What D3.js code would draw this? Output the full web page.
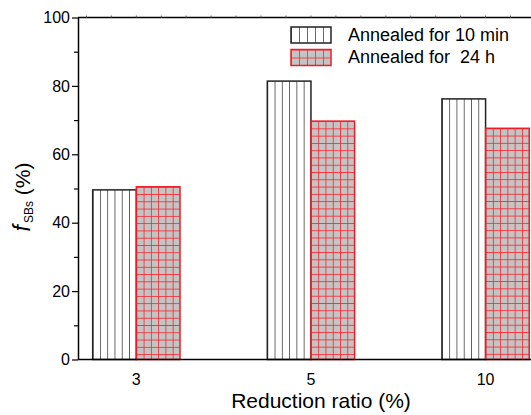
<!DOCTYPE html>
<html>
<head>
<meta charset="utf-8">
<script src="https://cdn.jsdelivr.net/npm/d3@7"></script>
<style>
  body { margin: 0; background: #fff; }
  text { font-family: "Liberation Sans", Arial, sans-serif; fill: #000; }
</style>
</head>
<body>
<div id="chart"></div>
<script>
// data
const categories = ['3', '5', '10'];
const series = ['Annealed for 10 min', 'Annealed for  24 h'];
const shortValues = [49.6, 81.4, 76.2];   // annealed 10 min
const longValues = [50.5, 69.7, 67.6];    // annealed 24 h
const yMajorTicks = [0, 20, 40, 60, 80, 100];
const yMinorTicks = [10, 30, 50, 70, 90];

const width = 531;
const height = 415;
const margin = { top: 17.5, left: 78, bottom: 55.5 };
const plotRight = 546;

const svg = d3.select('#chart')
  .append('svg')
  .attr('width', width)
  .attr('height', height);

const defs = svg.append('defs');

// scales
const x = d3.scaleLinear()
  .domain([-0.334, 2.346])
  .range([margin.left, plotRight]);

const y = d3.scaleLinear()
  .domain([0, 100])
  .range([height - margin.bottom, margin.top]);

const barW = 0.25; // in category units

const bars = [];
categories.forEach((c, i) => {
  bars.push({ cat: c, i: i, s: 0, value: shortValues[i] });
  bars.push({ cat: c, i: i, s: 1, value: longValues[i] });
});

// one pattern per bar so hatching lines up with each bar's edge
const makePattern = (id, px, py, cell, kind) => {
  const p = defs.append('pattern')
    .attr('id', id)
    .attr('patternUnits', 'userSpaceOnUse')
    .attr('x', px)
    .attr('y', py)
    .attr('width', cell)
    .attr('height', cell);
  if (kind === 0) {
    p.append('rect').attr('width', cell).attr('height', cell).attr('fill', '#fff');
    p.append('line')
      .attr('x1', 0).attr('x2', 0).attr('y1', 0).attr('y2', cell)
      .attr('stroke', '#2a2a2a').attr('stroke-width', 1.4);
  } else {
    p.append('rect').attr('width', cell).attr('height', cell).attr('fill', '#c4c4c4');
    p.append('line')
      .attr('x1', 0).attr('x2', 0).attr('y1', 0).attr('y2', cell)
      .attr('stroke', '#ff1a24').attr('stroke-width', 1.5);
    p.append('line')
      .attr('x1', 0).attr('x2', cell).attr('y1', 0).attr('y2', 0)
      .attr('stroke', '#ff1a24').attr('stroke-width', 1.5);
  }
};

const graph = svg.append('g');

bars.forEach((d, k) => {
  const x0 = x(d.i - barW + d.s * barW);
  const x1 = x(d.i + d.s * barW);
  const cell = (x1 - x0) / 6;
  makePattern('pat' + k, x0, y(d.value), cell, d.s);
});

graph.selectAll('rect.bar')
  .data(bars)
  .enter()
  .append('rect')
  .attr('class', 'bar')
  .attr('x', d => x(d.i - barW + d.s * barW))
  .attr('y', d => y(d.value))
  .attr('width', d => x(d.i + d.s * barW) - x(d.i - barW + d.s * barW))
  .attr('height', d => y(0) - y(d.value))
  .attr('fill', (d, k) => `url(#pat${k})`)
  .attr('stroke', d => d.s === 0 ? '#222' : '#ee1c25')
  .attr('stroke-width', 1.5);

// frame line on top
graph.append('line')
  .attr('x1', margin.left).attr('x2', plotRight)
  .attr('y1', y(100)).attr('y2', y(100))
  .attr('stroke', '#000').attr('stroke-width', 1.5);

// tiny ticks along the top edge
const topTicks = d3.range(-2, 18).map(k => k / 7);
graph.selectAll('line.ttick')
  .data(topTicks)
  .enter()
  .append('line')
  .attr('class', 'ttick')
  .attr('x1', d => x(d)).attr('x2', d => x(d))
  .attr('y1', y(100)).attr('y2', y(100) - 2)
  .attr('stroke', '#666').attr('stroke-width', 1);

const xAxisGroup = svg.append('g')
  .attr('transform', `translate(0, ${y(0)})`);
xAxisGroup.append('line')
  .attr('x1', margin.left).attr('x2', plotRight)
  .attr('stroke', '#000').attr('stroke-width', 1.5);
xAxisGroup.selectAll('text')
  .data(categories)
  .enter()
  .append('text')
  .attr('x', (d, i) => x(i))
  .attr('y', 25.5)
  .attr('text-anchor', 'middle')
  .style('font-size', '16px')
  .text(d => d);

// y axis
const yAxisGroup = svg.append('g')
  .attr('transform', `translate(${margin.left}, 0)`);
yAxisGroup.call(d3.axisLeft(y).tickValues(yMajorTicks).tickSize(6).tickSizeOuter(0).tickPadding(2));
yAxisGroup.append('g')
  .call(d3.axisLeft(y).tickValues(yMinorTicks).tickSize(4).tickSizeOuter(0).tickFormat(''))
  .select('.domain').remove();
yAxisGroup.selectAll('.domain').attr('stroke-width', 1.5);
yAxisGroup.selectAll('.tick line').attr('stroke-width', 1.2);
yAxisGroup.selectAll('text')
  .style('font-size', '16px')
  .style('font-family', '"Liberation Sans", Arial, sans-serif')
  .attr('fill', '#000');

// axis titles
svg.append('text')
  .attr('x', 321)
  .attr('y', 408)
  .attr('text-anchor', 'middle')
  .style('font-size', '21px')
  .text('Reduction ratio (%)');

const yTitle = svg.append('text')
  .attr('transform', 'translate(30, 197) rotate(-90)')
  .attr('text-anchor', 'middle')
  .style('font-size', '21px');
yTitle.append('tspan').style('font-style', 'italic').style('font-size', '23px').text('f');
yTitle.append('tspan').style('font-size', '12px').attr('dy', 3).attr('dx', 2).text('SBs');
yTitle.append('tspan').attr('dy', -3).text('\u00a0(%)');

// legend
const legend = svg.append('g');
series.forEach((s, k) => {
  const ly = 27 + k * 22.5;
  const cell = 8;
  makePattern('leg' + k, 291, ly, cell, k);
  legend.append('rect')
    .attr('x', 291).attr('y', ly)
    .attr('width', 40).attr('height', 16)
    .attr('fill', `url(#leg${k})`)
    .attr('stroke', k === 0 ? '#222' : '#ee1c25')
    .attr('stroke-width', 1.5);
  legend.append('text')
    .attr('x', 348)
    .attr('y', ly + 13.5)
    .style('font-size', '18px')
    .style('white-space', 'pre')
    .text(s);
});
</script>
</body>
</html>
